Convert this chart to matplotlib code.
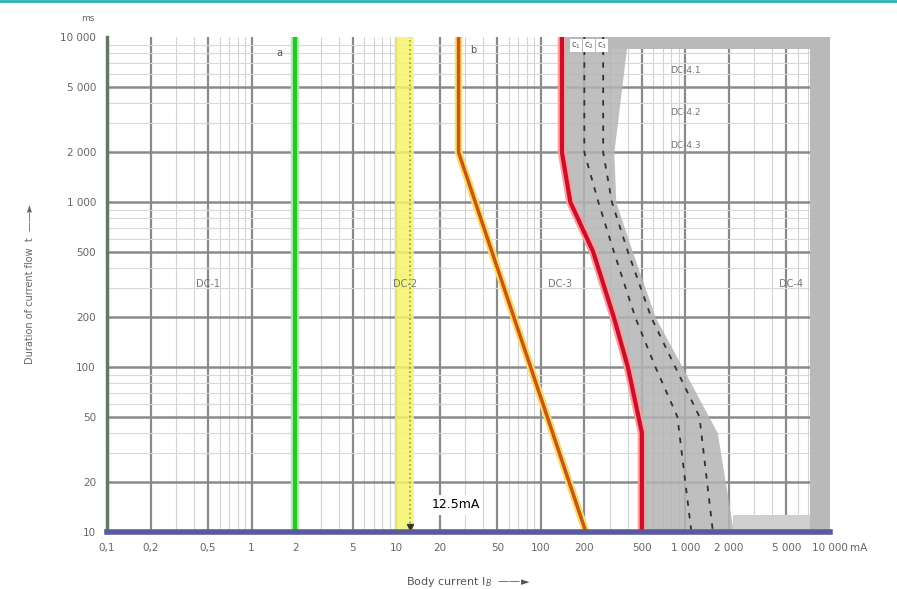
"""DC time/current zones (IEC 60479-1 style) with the 12.5 mA marker."""

import matplotlib

matplotlib.use("Agg")
import matplotlib.pyplot as plt  # noqa: E402
import numpy as np  # noqa: E402

X_TICKS = [0.1, 0.2, 0.5, 1, 2, 5, 10, 20, 50, 100, 200, 500, 1000, 2000, 5000, 10000]
X_LABELS = ["0,1", "0,2", "0,5", "1", "2", "5", "10", "20", "50", "100", "200",
            "500", "1 000", "2 000", "5 000", "10 000"]
Y_TICKS = [10, 20, 50, 100, 200, 500, 1000, 2000, 5000, 10000]
Y_LABELS = ["10", "20", "50", "100", "200", "500", "1 000", "2 000", "5 000", "10 000"]

# boundary curves, current in mA / duration in ms
A_MA = 2
B_MA = [27, 27, 205]
B_MS = [10000, 2000, 10]
C1_MA = [140, 140, 160, 230, 320, 400, 500, 500]
C1_MS = [10000, 2000, 1000, 500, 200, 100, 40, 10]
C2_MA = [200, 200, 250, 320, 450, 620, 880, 1100]
C2_MS = [10000, 2000, 1000, 500, 200, 100, 50, 10]
C3_MA = [270, 270, 310, 400, 580, 850, 1250, 1550]
C3_MS = [10000, 2000, 1000, 500, 200, 100, 50, 10]
BAND_MA = [400, 400, 320, 330, 430, 620, 950, 1500, 2000, 2150]
BAND_MS = [10000, 5000, 2000, 1000, 500, 200, 100, 50, 25, 10]
MARK_LO, MARK_HI, MARK_MA = 9.8, 13.3, 12.5

ZONES = [("DC-1", 0.5, 320), ("DC-2", 11.5, 320), ("DC-3", 135, 320), ("DC-4", 5400, 320)]
SUBZONES = [("DC-4.1", 1000, 6300), ("DC-4.2", 1000, 3500), ("DC-4.3", 1000, 2200)]

fig = plt.figure(figsize=(8.97, 5.89), dpi=100)
ax = fig.add_axes([0.1193, 0.0968, 0.8060, 0.8404])
ax.set_xscale("log")
ax.set_yscale("log")
ax.set_xlim(0.1, 10000)
ax.set_ylim(10, 10000)

# grid: light lines on every integer step, darker on 1-2-5
for dec in [0.1, 1, 10, 100, 1000]:
    for k in range(1, 10):
        v = dec * k
        if v > 10000:
            continue
        major = np.isclose(v, X_TICKS).any()
        ax.axvline(v, color="#8a8a8a" if major else "#d2d2d2",
                   lw=1.6 if major else 0.8, zorder=1)
for dec in [10, 100, 1000]:
    for k in range(1, 10):
        v = dec * k
        major = np.isclose(v, Y_TICKS).any()
        ax.axhline(v, color="#8a8a8a" if major else "#d8d8d8",
                   lw=1.8 if major else 0.8, zorder=1)

# grey band of c2/c3 and the grey frame on the right
band_right = np.interp(np.log(C1_MS), np.log(BAND_MS[::-1]), BAND_MA[::-1])
ax.fill_betweenx(C1_MS, C1_MA, band_right, color="#b4b4b4", alpha=0.85, zorder=2, lw=0)
ax.fill_betweenx([10, 10000], 7300, 10000, color="#b9b9b9", zorder=2, lw=0)
ax.fill_between([140, 10000], 8400, 10000, color="#b9b9b9", zorder=2, lw=0)
ax.fill_between([2150, 7300], 10, 12.6, color="#cfcfcf", zorder=2, lw=0)

# 12.5 mA marker band
ax.axvspan(MARK_LO, MARK_HI, color="#f4f46a", alpha=0.85, zorder=3, lw=0)
ax.axvline(MARK_MA, color="#9a9a30", lw=1.2, ls=":", zorder=3)
ax.plot([MARK_MA], [10.7], marker="v", color="#333333", ms=5, zorder=6, clip_on=False)

# curve a
ax.axvline(A_MA, color="#a8f0a8", lw=6, zorder=4)
ax.axvline(A_MA, color="#26c626", lw=3, zorder=5)
# curve b
ax.plot(B_MA, B_MS, color="#ffd870", lw=5.5, zorder=4, solid_capstyle="butt")
ax.plot(B_MA, B_MS, color="#c25a12", lw=2.5, zorder=5, solid_capstyle="butt")
# curve c1
ax.plot(C1_MA, C1_MS, color="#ff9c9c", lw=6, zorder=4, solid_capstyle="butt")
ax.plot(C1_MA, C1_MS, color="#c8102a", lw=3, zorder=5, solid_capstyle="butt")
# curves c2, c3
ax.plot(C2_MA, C2_MS, color="#303030", lw=1.3, ls=(0, (3, 4)), zorder=5)
ax.plot(C3_MA, C3_MS, color="#303030", lw=1.3, ls=(0, (3, 4)), zorder=5)

for name, x, y in ZONES:
    ax.text(x, y, name, fontsize=7, color="#777777", ha="center", va="center", zorder=7)
for name, x, y in SUBZONES:
    ax.text(x, y, name, fontsize=6.5, color="#777777", ha="center", va="center", zorder=7)
ax.text(1.55, 8000, "a", fontsize=7, color="#555555", ha="center", va="center", zorder=7)
ax.text(34, 8300, "b", fontsize=7, color="#555555", ha="center", va="center", zorder=7)
for name, x in [("c$_1$", 175), ("c$_2$", 215), ("c$_3$", 265)]:
    ax.text(x, 8900, name, fontsize=6, color="#555555", ha="center", va="center",
            zorder=7, bbox=dict(boxstyle="square,pad=0.15", fc="white", ec="none"))

ax.text(17.5, 14.6, "12.5mA", fontsize=9, color="black", ha="left", va="center",
        zorder=8, bbox=dict(boxstyle="square,pad=0.3", fc="white", ec="none"))

for s in ["top", "right"]:
    ax.spines[s].set_visible(False)
ax.spines["left"].set_color("#5f7a5f")
ax.spines["left"].set_linewidth(2.5)
ax.spines["bottom"].set_color("#5a5a9c")
ax.spines["bottom"].set_linewidth(4)
ax.spines["bottom"].set_zorder(9)

ax.set_xticks(X_TICKS)
ax.set_xticklabels(X_LABELS)
ax.set_yticks(Y_TICKS)
ax.set_yticklabels(Y_LABELS)
ax.xaxis.set_minor_locator(matplotlib.ticker.NullLocator())
ax.yaxis.set_minor_locator(matplotlib.ticker.NullLocator())
ax.tick_params(length=0, labelsize=7.5, labelcolor="#666666", pad=8)
fig.text(0.948, 0.07, "mA", fontsize=7.5, color="#666666", ha="left", va="center")

ax.set_xlabel("Body current I$_B$  ——►", fontsize=8, color="#555555", labelpad=16)
ax.set_ylabel("Duration of current flow  t  ——►", fontsize=7, color="#666666", labelpad=18)
fig.text(0.098, 0.968, "ms", fontsize=6.5, color="#666666", ha="center", va="center")

fig.add_artist(plt.Line2D([0, 1], [0.998, 0.998], color="#2ab5b5", lw=2))

fig.savefig("out.png", dpi=100)
